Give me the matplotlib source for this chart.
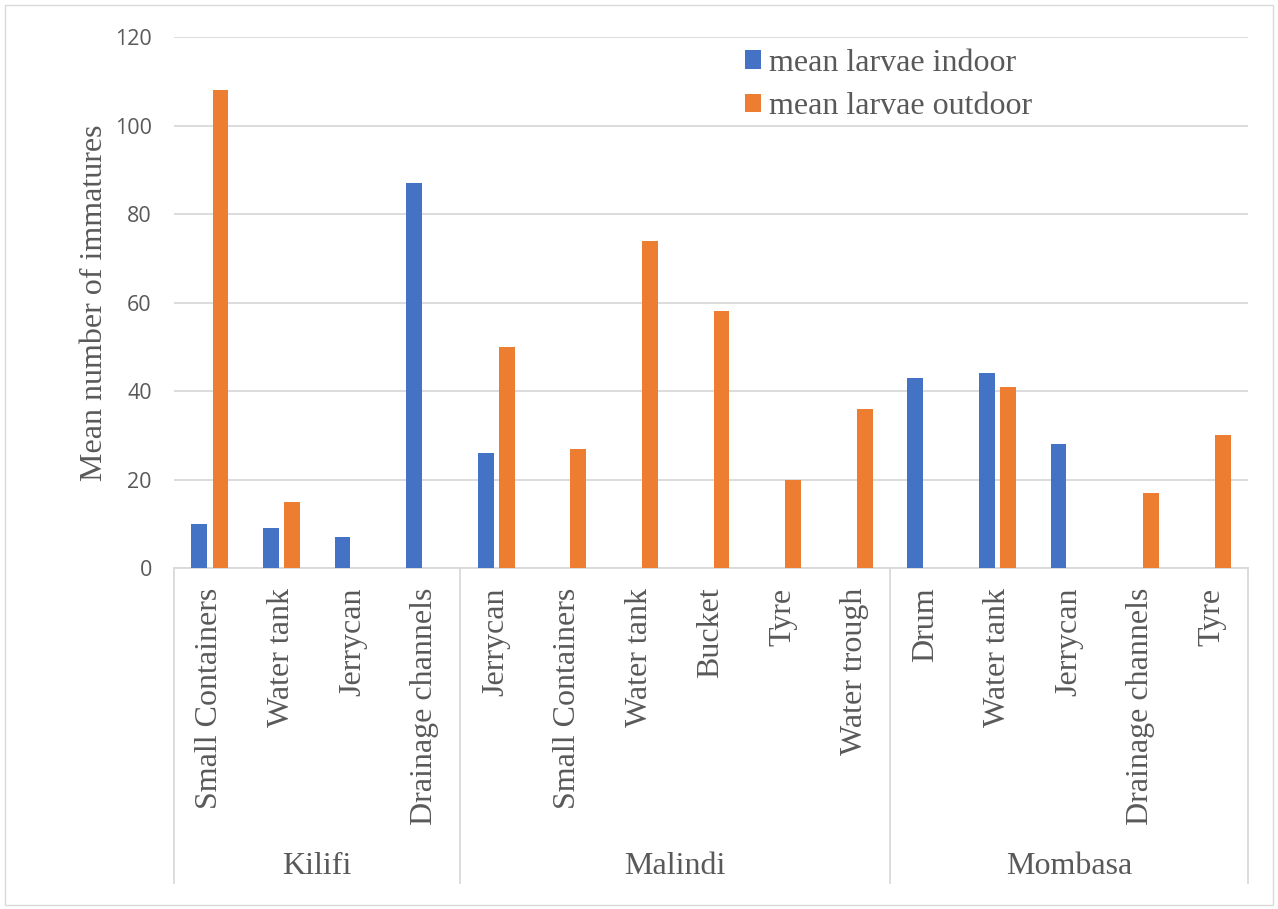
import numpy as np
import matplotlib
matplotlib.use("Agg")
import matplotlib.pyplot as plt
import matplotlib.transforms as mtransforms
from matplotlib.patches import Rectangle

# data
groups = ["Kilifi", "Malindi", "Mombasa"]
group_sizes = [4, 6, 5]
categories = ["Small Containers", "Water tank", "Jerrycan", "Drainage channels",
              "Jerrycan", "Small Containers", "Water tank", "Bucket", "Tyre", "Water trough",
              "Drum", "Water tank", "Jerrycan", "Drainage channels", "Tyre"]
indoor = [10, 9, 7, 87, 26, 0, 0, 0, 0, 0, 43, 44, 28, 0, 0]
outdoor = [108, 15, 0, 0, 50, 27, 74, 58, 20, 36, 0, 41, 0, 17, 30]

blue = "#4472c4"
orange = "#ed7d31"
grid_col = "#d9d9d9"
text_col = "#595959"
serif = "Liberation Serif"

fig = plt.figure(figsize=(12.78, 9.09), dpi=100)
ax = fig.add_axes([0.1362, 0.3751, 0.8403, 0.5842])

x = np.arange(len(categories))
w = 0.22
off = 0.147
ax.bar(x - off, indoor, w, color=blue, label="mean larvae indoor", zorder=3)
ax.bar(x + off, outdoor, w, color=orange, label="mean larvae outdoor", zorder=3)

ax.set_xlim(-0.5, len(categories) - 0.5)
ax.set_ylim(0, 120)
ax.set_yticks(np.arange(0, 121, 20))
ax.yaxis.grid(True, color=grid_col, linewidth=1.3, zorder=0)
ax.set_axisbelow(True)
for s in ["top", "right", "left"]:
    ax.spines[s].set_visible(False)
ax.spines["bottom"].set_color(grid_col)
ax.spines["bottom"].set_linewidth(1.3)
ax.tick_params(axis="y", length=0, pad=16, labelsize=15.5, labelcolor=text_col)
ax.tick_params(axis="x", length=0)
ax.set_xticks([])
for lab in ax.get_yticklabels():
    lab.set_family("Open Sans")

ax.set_ylabel("Mean number of immatures", family=serif, fontsize=23, color=text_col, labelpad=4)

trans = mtransforms.blended_transform_factory(ax.transData, ax.transAxes)
for i, c in enumerate(categories):
    ax.text(i, -0.037, c, rotation=90, ha="center", va="top", family=serif,
            fontsize=23, color=text_col, transform=trans)

edges = np.concatenate([[0], np.cumsum(group_sizes)]) - 0.5
for e in edges:
    ax.plot([e, e], [0, -0.593], transform=trans, color=grid_col, lw=1.3, clip_on=False)
for g, a, b in zip(groups, edges[:-1], edges[1:]):
    ax.text((a + b) / 2, -0.562, g, ha="center", va="center", family=serif,
            fontsize=23, color=text_col, transform=trans)

leg = ax.legend(loc="upper left", bbox_to_anchor=(716 / 1278, 1 - 20 / 909),
                bbox_transform=fig.transFigure, frameon=False, handlelength=0.5,
                handleheight=0.5, handletextpad=0.25, labelspacing=0.45,
                prop={"family": serif, "size": 23})
for t in leg.get_texts():
    t.set_color(text_col)

fig.patches.append(Rectangle((0.004, 0.004), 0.992, 0.99, transform=fig.transFigure,
                             fill=False, edgecolor=grid_col, lw=1))

fig.savefig("out.png", dpi=100)
